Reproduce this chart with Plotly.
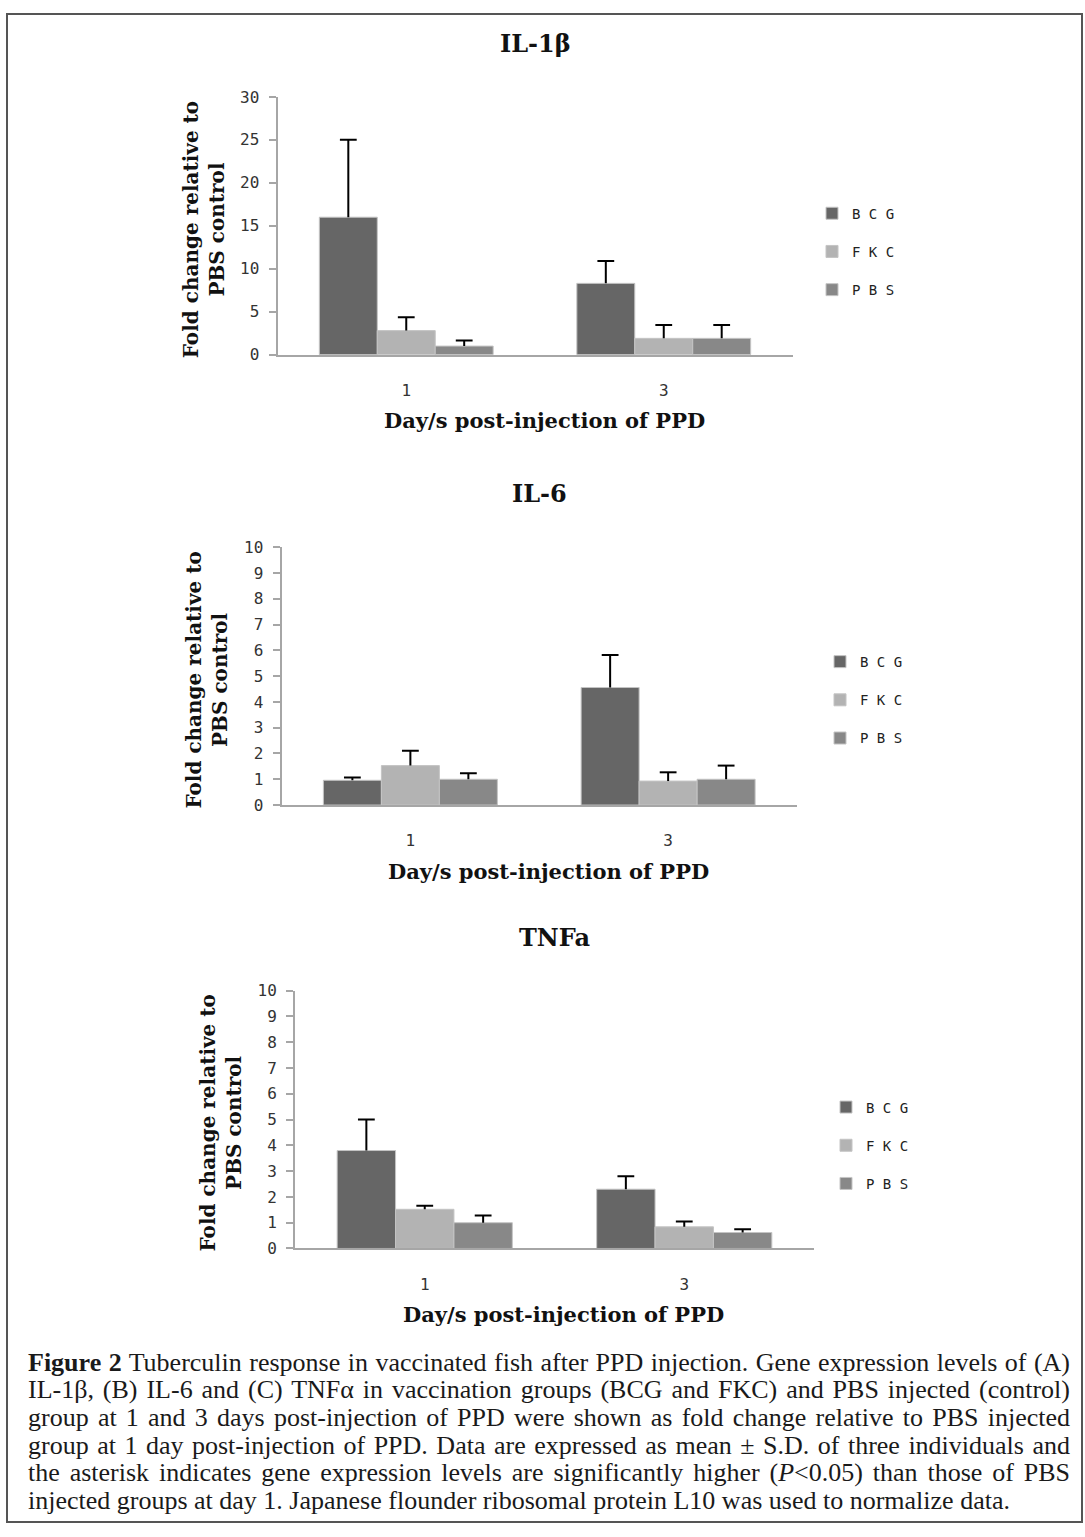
import plotly.graph_objects as go

# ---------------- data ----------------
days = ["1", "3"]
groups = ["B C G", "F K C", "P B S"]

il1b_bcg = [16.0, 8.3]
il1b_bcg_sd = [9.0, 2.6]
il1b_fkc = [2.8, 1.9]
il1b_fkc_sd = [1.55, 1.55]
il1b_pbs = [1.0, 1.9]
il1b_pbs_sd = [0.65, 1.55]

il6_bcg = [0.96, 4.56]
il6_bcg_sd = [0.11, 1.26]
il6_fkc = [1.53, 0.93]
il6_fkc_sd = [0.58, 0.34]
il6_pbs = [1.0, 1.0]
il6_pbs_sd = [0.23, 0.53]

tnf_bcg = [3.8, 2.3]
tnf_bcg_sd = [1.2, 0.5]
tnf_fkc = [1.52, 0.84]
tnf_fkc_sd = [0.14, 0.21]
tnf_pbs = [1.0, 0.62]
tnf_pbs_sd = [0.28, 0.13]

titles = ["IL-1β", "IL-6", "TNFa"]
y_max = [30, 10, 10]
y_dtick = [5, 1, 1]

caption_lines = [
    "<b>Figure 2</b> Tuberculin response in vaccinated fish after PPD injection. Gene expression levels of (A)",
    "IL-1β, (B) IL-6 and (C) TNFα in vaccination groups (BCG and FKC) and PBS injected (control)",
    "group at 1 and 3 days post-injection of PPD were shown as fold change relative to PBS injected",
    "group at 1 day post-injection of PPD. Data are expressed as mean ± S.D. of three individuals and",
    "the asterisk indicates gene expression levels are significantly higher (<i>P</i>&lt;0.05) than those of PBS",
    "injected groups at day 1. Japanese flounder ribosomal protein L10 was used to normalize data.",
]

# ---------------- style / layout ----------------
W, H = 1085, 1537
colors = ["#666666", "#b3b3b3", "#888888"]
axis_col = "#a6a6a6"
mono = "DejaVu Sans Mono"
serif_b = "DejaVu Serif"

# pixel boxes of the three plot areas: (x0, x1, ytop, ybottom)
boxes = [(277.5, 792.5, 89, 350), (281.5, 797, 545, 806), (295, 814, 994, 1255)]
legend_pos = [(812, 191), (820, 645), (826, 1096)]
bar_w = 0.225


def px(x):
    return x / W


def py(y):
    return 1 - y / H


charts = [
    [(il1b_bcg, il1b_bcg_sd), (il1b_fkc, il1b_fkc_sd), (il1b_pbs, il1b_pbs_sd)],
    [(il6_bcg, il6_bcg_sd), (il6_fkc, il6_fkc_sd), (il6_pbs, il6_pbs_sd)],
    [(tnf_bcg, tnf_bcg_sd), (tnf_fkc, tnf_fkc_sd), (tnf_pbs, tnf_pbs_sd)],
]

pos = list(range(len(days)))
fig = go.Figure()
layout = {}
annotations = []

for c, series in enumerate(charts):
    sfx = "" if c == 0 else str(c + 1)
    xa, ya = "x" + sfx, "y" + sfx
    leg = "legend" + sfx
    for k, (vals, sds) in enumerate(series):
        fig.add_trace(go.Bar(
            x=pos, y=vals, width=bar_w, offset=(k - 1.5) * bar_w,
            name=groups[k], marker=dict(color=colors[k], line=dict(color="#c4c4c4", width=1)),
            xaxis=xa, yaxis=ya, legend=leg, legendgroup=f"{c}-{k}",
        ))
    for k, (vals, sds) in enumerate(series):
        tops = [v + s for v, s in zip(vals, sds)]
        fig.add_trace(go.Scatter(
            x=[p + (k - 1) * bar_w for p in pos], y=tops, mode="markers",
            marker=dict(symbol="line-ew", size=12, color="black", line=dict(color="black", width=2)),
            error_y=dict(type="data", symmetric=False, array=[0] * len(sds), arrayminus=sds,
                         width=0, thickness=2, color="black"),
            xaxis=xa, yaxis=ya, showlegend=False, hoverinfo="skip",
        ))

    x0, x1, yt, yb = boxes[c]
    layout["xaxis" + sfx] = dict(
        domain=[px(x0), px(x1)], anchor=ya, range=[-0.5, len(days) - 0.5],
        tickvals=pos, ticktext=days, showline=True, linecolor=axis_col, linewidth=2,
        ticks="", showgrid=False, zeroline=False, ticklabelstandoff=20,
        tickfont=dict(family=mono, size=16, color="#333333"), fixedrange=True,
    )
    layout["yaxis" + sfx] = dict(
        domain=[py(yb), py(yt)], anchor=xa, range=[0, y_max[c]], dtick=y_dtick[c],
        showline=True, linecolor=axis_col, linewidth=2, ticks="outside", ticklen=7,
        tickcolor=axis_col, tickwidth=2, showgrid=False, zeroline=False,
        ticklabelstandoff=6, tickfont=dict(family=mono, size=16, color="#333333"), fixedrange=True,
    )
    lx, ly = legend_pos[c]
    layout[leg] = dict(
        x=px(lx), y=py(ly), xanchor="left", yanchor="top", traceorder="grouped",
        tracegroupgap=17, bgcolor="rgba(0,0,0,0)", font=dict(family=mono, size=14, color="#222222"),
    )
    cx = (x0 + x1) / 2
    common = dict(xref="paper", yref="paper", showarrow=False, xanchor="center", yanchor="middle")
    annotations.append(dict(text="<b>" + titles[c] + "</b>", x=px(cx), y=py(yt - 54),
                            font=dict(family=serif_b, size=24, color="#111111"), **common))
    annotations.append(dict(text="<b>Day/s post-injection of PPD</b>", x=px(cx + 9), y=py(yb + 67),
                            font=dict(family=serif_b, size=21, color="#111111"), **common))
    annotations.append(dict(text="<b>Fold change relative to<br>PBS control</b>",
                            x=px(x0 - 74), y=py((yt + yb) / 2 + 4), textangle=-90,
                            font=dict(family=serif_b, size=20, color="#111111"), **common))

cap_start = len(annotations)
cap_y0, cap_dy = 1370, 28
for i, line in enumerate(caption_lines):
    annotations.append(dict(text=line, x=px(26), y=py(cap_y0 + i * cap_dy), xanchor="left",
                            yanchor="middle", align="left", xref="paper", yref="paper",
                            showarrow=False,
                            font=dict(family="Liberation Serif", size=26, color="#1a1a1a")))

fig.update_layout(
    width=W, height=H, margin=dict(l=0, r=0, t=0, b=0),
    paper_bgcolor="white", plot_bgcolor="white", barmode="overlay",
    annotations=annotations, showlegend=True,
    shapes=[dict(type="rect", xref="paper", yref="paper", x0=px(7), x1=px(1082),
                 y0=py(1532), y1=py(5), line=dict(color="#555555", width=2))],
    **layout,
)

just_idx = [cap_start + i for i in range(len(caption_lines) - 1)]
all_idx = [cap_start + i for i in range(len(caption_lines))]
post = """
document.body.style.margin='0';document.body.style.overflow='hidden';
var gd=document.getElementById('{plot_id}');
var idx=%s, allIdx=%s, target=%d;
allIdx.forEach(function(i){
  var t=gd.querySelector('.annotation[data-index="'+i+'"] text.annotation-text');
  if(!t) return;
  var w=t.getComputedTextLength();
  var n=(t.textContent.match(/ /g)||[]).length;
  var justify = idx.indexOf(i)>=0;
  if(n>0 && (justify || w>target)){t.style.wordSpacing=((target-w)/n)+'px';}
});
""" % (str(just_idx), str(all_idx), 1068 - 26)

fig.write_html("out.html", post_script=post, config={"displayModeBar": False})
